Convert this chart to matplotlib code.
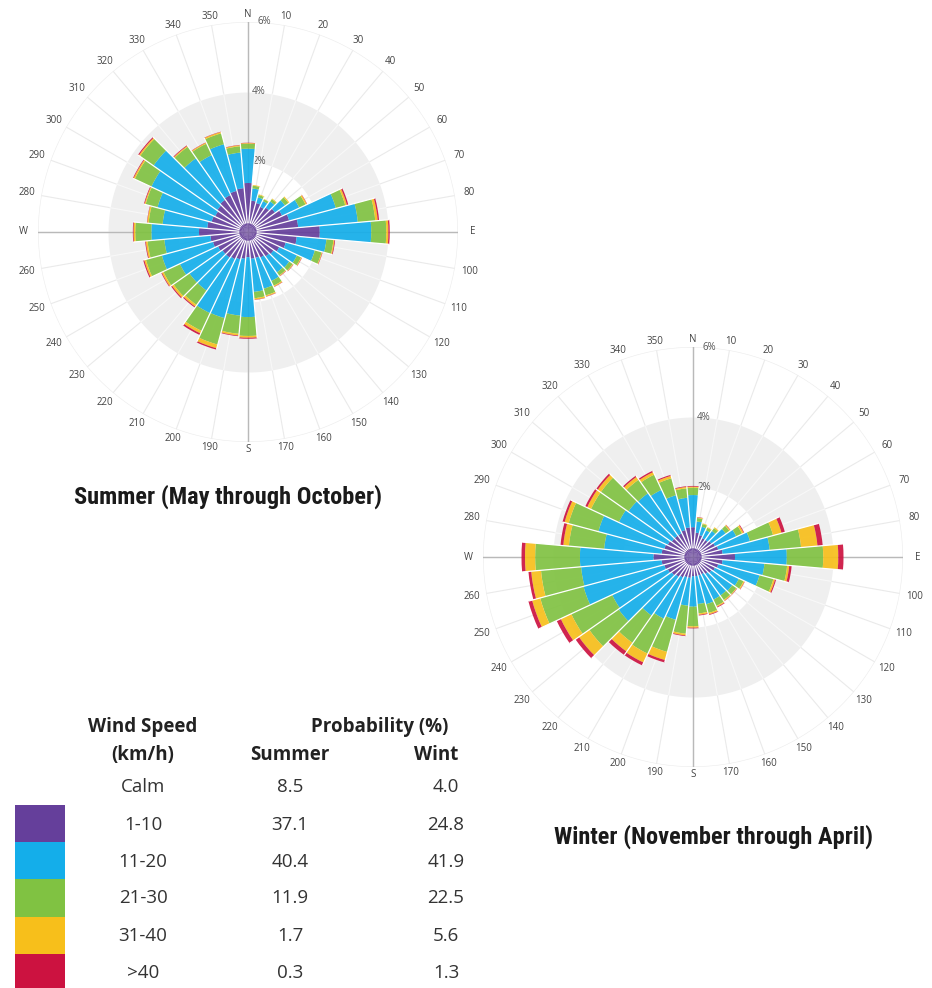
import numpy as np
import matplotlib
matplotlib.use("Agg")
import matplotlib.pyplot as plt
from matplotlib.transforms import Bbox, TransformedBbox

# ---------------- data ----------------
directions = [0, 10, 20, 30, 40, 50, 60, 70, 80, 90, 100, 110, 120, 130, 140, 150, 160, 170,
              180, 190, 200, 210, 220, 230, 240, 250, 260, 270, 280, 290, 300, 310, 320, 330, 340, 350]
direction_labels = ["N", "10", "20", "30", "40", "50", "60", "70", "80", "E", "100", "110", "120",
                    "130", "140", "150", "160", "170", "S", "190", "200", "210", "220", "230", "240",
                    "250", "260", "W", "280", "290", "300", "310", "320", "330", "340", "350"]
radial_ticks = [2, 4, 6]
radial_labels = ["2%", "4%", "6%"]

speed_bins = ["1-10", "11-20", "21-30", "31-40", ">40"]
speed_colors = ["#653f9b", "#14aeea", "#80c242", "#f7bf1b", "#cc1240"]

summer_1_10 = [1.40, 0.90, 0.86, 0.80, 0.86, 0.95, 1.08, 1.22, 1.44, 2.05, 1.40, 1.12, 0.99, 0.90, 0.86, 0.81, 0.77, 0.77,
               0.72, 0.77, 0.81, 0.86, 0.90, 0.90, 0.95, 1.04, 1.08, 1.40, 1.17, 1.08, 1.04, 1.08, 1.13, 1.17, 1.22, 1.26]
summer_11_20 = [0.98, 0.35, 0.17, 0.18, 0.22, 0.35, 0.54, 1.38, 1.71, 1.47, 0.85, 0.86, 0.56, 0.55, 0.56, 0.74, 0.91, 0.95,
                1.71, 1.63, 1.74, 1.70, 1.15, 1.15, 1.20, 1.51, 1.32, 1.36, 1.28, 1.60, 2.01, 2.22, 1.45, 1.26, 1.38, 1.02]
summer_21_30 = [0.14, 0.08, 0.07, 0.06, 0.08, 0.12, 0.20, 0.28, 0.50, 0.43, 0.20, 0.20, 0.13, 0.12, 0.11, 0.15, 0.20, 0.18,
                0.54, 0.52, 0.78, 0.56, 0.50, 0.55, 0.52, 0.47, 0.48, 0.46, 0.40, 0.35, 0.52, 0.47, 0.40, 0.36, 0.32, 0.18]
summer_31_40 = [0.02, 0.02, 0.02, 0.01, 0.02, 0.03, 0.04, 0.05, 0.07, 0.06, 0.03, 0.02, 0.02, 0.02, 0.02, 0.03, 0.03, 0.04,
                0.05, 0.05, 0.11, 0.08, 0.06, 0.06, 0.05, 0.05, 0.05, 0.05, 0.04, 0.03, 0.04, 0.04, 0.03, 0.03, 0.04, 0.03]
summer_gt40 = [0.01, 0.00, 0.00, 0.00, 0.00, 0.00, 0.01, 0.04, 0.04, 0.04, 0.02, 0.01, 0.01, 0.01, 0.01, 0.01, 0.01, 0.01,
               0.03, 0.02, 0.04, 0.05, 0.03, 0.03, 0.02, 0.03, 0.02, 0.02, 0.01, 0.02, 0.02, 0.03, 0.02, 0.01, 0.01, 0.01]

winter_1_10 = [0.85, 0.70, 0.65, 0.60, 0.60, 0.65, 0.70, 0.75, 0.85, 1.20, 0.85, 0.75, 0.70, 0.65, 0.60, 0.55, 0.55, 0.55,
               0.55, 0.60, 0.60, 0.65, 0.70, 0.75, 0.80, 0.85, 0.90, 1.13, 0.90, 0.85, 0.80, 0.75, 0.75, 0.75, 0.80, 0.85]
winter_11_20 = [0.92, 0.32, 0.25, 0.25, 0.32, 0.50, 0.67, 0.94, 1.35, 1.48, 1.20, 1.22, 0.75, 0.73, 0.75, 0.80, 0.85, 0.80,
                0.87, 0.80, 1.26, 1.30, 1.35, 1.85, 1.75, 2.39, 2.31, 2.10, 1.65, 1.95, 1.54, 1.51, 1.48, 1.37, 1.03, 0.85]
winter_21_30 = [0.21, 0.10, 0.08, 0.08, 0.10, 0.13, 0.18, 0.68, 0.90, 1.04, 0.65, 0.41, 0.15, 0.14, 0.16, 0.20, 0.26, 0.27,
                0.56, 0.80, 0.95, 1.10, 0.95, 1.02, 1.29, 1.28, 1.15, 1.28, 1.01, 0.88, 0.88, 0.96, 0.47, 0.48, 0.50, 0.27]
winter_31_40 = [0.03, 0.02, 0.02, 0.02, 0.03, 0.03, 0.05, 0.25, 0.47, 0.43, 0.06, 0.05, 0.03, 0.02, 0.03, 0.03, 0.04, 0.04,
                0.04, 0.05, 0.24, 0.28, 0.30, 0.36, 0.33, 0.24, 0.28, 0.29, 0.16, 0.12, 0.12, 0.11, 0.10, 0.08, 0.07, 0.04]
winter_gt40 = [0.02, 0.01, 0.00, 0.00, 0.00, 0.01, 0.02, 0.10, 0.15, 0.15, 0.07, 0.03, 0.01, 0.01, 0.01, 0.02, 0.02, 0.02,
               0.02, 0.02, 0.07, 0.09, 0.12, 0.12, 0.13, 0.11, 0.08, 0.10, 0.08, 0.06, 0.06, 0.05, 0.04, 0.04, 0.03, 0.02]

summer_title = "Summer (May through October)"
winter_title = "Winter (November through April)"

table_speeds = ["Calm", "1-10", "11-20", "21-30", "31-40", ">40"]
summer_prob = ["8.5", "37.1", "40.4", "11.9", "1.7", "0.3"]
winter_prob = ["4.0", "24.8", "41.9", "22.5", "5.6", "1.3"]

# ---------------- figure ----------------
W, H = 932, 988
R = 210  # pixels for 6 %
fig = plt.figure(figsize=(W / 100, H / 100), dpi=100)
fig.patch.set_facecolor("white")

BODY_FONT = ["Open Sans", "DejaVu Sans"]
TITLE_FONT = ["Roboto Condensed", "Roboto", "DejaVu Sans"]


def make_rose(cx, cy, bands):
    ax = fig.add_axes([(cx - R) / W, (H - cy - R) / H, 2 * R / W, 2 * R / H], projection="polar")
    ax.set_theta_zero_location("N")
    ax.set_theta_direction(-1)
    ax.set_ylim(0, 6)
    ax.axis("off")
    theta = np.deg2rad(directions)
    tt = np.linspace(0, 2 * np.pi, 721)

    # spokes (grey on white, lighter across the band)
    for t in theta:
        ax.plot([t, t], [0, 6], color="#eaeaea", lw=0.8, zorder=0.5)
    ax.fill_between(tt, 2, 4, color="#efefef", lw=0, zorder=1)
    for t in theta:
        ax.plot([t, t], [2, 4], color="#f8f8f8", lw=0.8, zorder=1.1)
    ax.plot(tt, np.full_like(tt, 6.0), color="#ededed", lw=0.9, zorder=0.6)
    # main axes
    for d in (0, 90, 180, 270):
        t = np.deg2rad(d)
        ax.plot([t, t], [0, 6], color="#b9b9b9", lw=1.0, zorder=1.5)

    # radial labels
    for r, s in zip(radial_ticks, radial_labels):
        off = 7 if r == 6 else 3
        ax.annotate(s, xy=(0, r), xytext=(off, 0), textcoords="offset points", ha="left", va="center",
                    fontsize=7, color="#555555", family=BODY_FONT, zorder=2)

    # direction labels
    for t, lab in zip(theta, direction_labels):
        rr = 6.22 + 0.2 * abs(np.sin(t))
        ax.text(t, rr, lab, ha="center", va="center", fontsize=7, color="#444444", family=BODY_FONT)

    # stacked bars
    bottom = np.zeros(len(directions))
    width = np.deg2rad(10)
    for vals, c in zip(bands, speed_colors):
        vals = np.asarray(vals)
        ax.bar(theta, vals, width=width, bottom=bottom, color=c, alpha=0.92, lw=0, zorder=3, align="center")
        bottom = bottom + vals
    # thin white separators between neighbouring bars
    n = len(directions)
    for k in range(n):
        tb = theta[k] + width / 2
        rmax = max(bottom[k], bottom[(k + 1) % n])
        ax.plot([tb, tb], [0.25, rmax], color="white", lw=0.9, zorder=4, solid_capstyle="butt")
    return ax


make_rose(248, 232, [summer_1_10, summer_11_20, summer_21_30, summer_31_40, summer_gt40])
make_rose(693, 557, [winter_1_10, winter_11_20, winter_21_30, winter_31_40, winter_gt40])

fig.text(228 / W, 1 - 497 / H, summer_title, ha="center", va="center", fontsize=17.6,
         fontweight="bold", family=TITLE_FONT, color="#1a1a1a")
fig.text(714 / W, 1 - 837 / H, winter_title, ha="center", va="center", fontsize=17.6,
         fontweight="bold", family=TITLE_FONT, color="#1a1a1a")

# ---------------- legend table ----------------
clip_head = TransformedBbox(Bbox([[0, 0], [458 / W, 1]]), fig.transFigure)
clip_vals = TransformedBbox(Bbox([[0, 0], [467 / W, 1]]), fig.transFigure)


def ftext(x, y, s, bold=False, clip=None):
    t = fig.text(x / W, 1 - y / H, s, ha="center", va="center", fontsize=13.5,
                 fontweight="bold" if bold else "normal", family=BODY_FONT,
                 color="#222222" if bold else "#333333")
    if clip is not None:
        t.set_clip_box(clip)
        t.set_clip_on(True)
    return t


ftext(143, 727, "Wind Speed", bold=True)
ftext(143, 755, "(km/h)", bold=True)
ftext(380, 727, "Probability (%)", bold=True)
ftext(290, 755, "Summer", bold=True)
ftext(446, 755, "Winter", bold=True, clip=clip_head)

row_y = [787, 825, 862, 898, 936, 973]
for y, sp, s_val, w_val in zip(row_y, table_speeds, summer_prob, winter_prob):
    ftext(143, y, sp)
    ftext(290, y, s_val)
    ftext(446, y, w_val, clip=clip_vals)

swatch_top = [805, 842, 879, 917, 954]
swatch_bot = [842, 879, 917, 954, 990]
for top, bot, c in zip(swatch_top, swatch_bot, speed_colors):
    fig.patches.append(plt.Rectangle((15 / W, 1 - bot / H), 50 / W, (bot - top) / H,
                                     transform=fig.transFigure, color=c, lw=0, figure=fig))

fig.savefig("out.png", dpi=100, facecolor="white")
